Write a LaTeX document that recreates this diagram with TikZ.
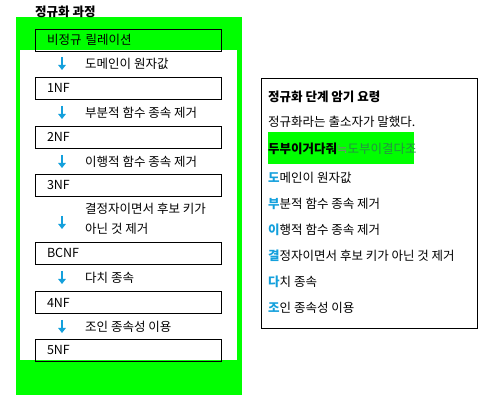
\documentclass[tikz,border=0pt]{standalone}
\usepackage{fontspec}
\setmainfont{Noto Sans CJK KR}
\newfontfamily\symfont{DejaVu Sans}
\usetikzlibrary{arrows.meta}
\definecolor{bgreen}{RGB}{0,255,0}
\definecolor{darr}{RGB}{20,160,220}
\definecolor{dgtext}{RGB}{40,140,70}
\begin{document}
\begin{tikzpicture}[x=1pt,y=-1pt,
  every node/.style={font=\fontsize{12.5}{14}\selectfont, inner sep=0pt},
  nfbox/.style={draw=black, line width=0.8pt, minimum width=186pt, minimum height=22pt, text width=162pt, align=left, anchor=center},
  downarrow/.style={draw=darr, line width=2pt, -{Triangle[width=7.5pt,length=5pt]}},
  lbl/.style={anchor=west},
  note/.style={anchor=west}]
\useasboundingbox (0,0) rectangle (488,406);
% green frame
\fill[bgreen] (16,17) rectangle (242,395);
\fill[white] (20,50) rectangle (237,360);
\node[anchor=west, font=\fontsize{12.5}{14}\selectfont\bfseries] (title) at (35,12) {정규화 과정};
% boxes
\node[nfbox] (b0) at (128,40) {비정규 릴레이션};
\node[nfbox] (b1) at (128,88) {1NF};
\node[nfbox] (b2) at (128,137) {2NF};
\node[nfbox] (b3) at (128,185.5) {3NF};
\node[nfbox] (b4) at (128,253) {BCNF};
\node[nfbox] (b5) at (128,302.5) {4NF};
\node[nfbox] (b6) at (128,350) {5NF};
% arrows
\coordinate (a1s) at (62,57); \coordinate (a1e) at (62,70);
\coordinate (a2s) at (62,106); \coordinate (a2e) at (62,119);
\coordinate (a3s) at (62,155); \coordinate (a3e) at (62,168);
\coordinate (a4s) at (62,216); \coordinate (a4e) at (62,229);
\coordinate (a5s) at (62,271); \coordinate (a5e) at (62,284);
\coordinate (a6s) at (62,320); \coordinate (a6e) at (62,333);
\draw[downarrow] (a1s) -- (a1e);
\draw[downarrow] (a2s) -- (a2e);
\draw[downarrow] (a3s) -- (a3e);
\draw[downarrow] (a4s) -- (a4e);
\draw[downarrow] (a5s) -- (a5e);
\draw[downarrow] (a6s) -- (a6e);
\node[lbl] (l1) at (85,64) {도메인이 원자값};
\node[lbl] (l2) at (85,113) {부분적 함수 종속 제거};
\node[lbl] (l3) at (85,162) {이행적 함수 종속 제거};
\node[lbl] (l4a) at (85,209) {결정자이면서 후보 키가};
\node[lbl] (l4b) at (85,229) {아닌 것 제거};
\node[lbl] (l5) at (85,278) {다치 종속};
\node[lbl] (l6) at (85,327) {조인 종속성 이용};
% right box
\draw[line width=0.8pt] (261,78) rectangle (477,328);
\fill[bgreen] (268,132) rectangle (414,164);
\node[note, font=\fontsize{12.5}{14}\selectfont\bfseries] (n0) at (268,97) {정규화 단계 암기 요령};
\node[note] (n1) at (268,122) {정규화라는 출소자가 말했다.};
\node[note] (n2) at (268,149) {\textbf{두부이거다줘}\textcolor{gray}{\symfont ≒}\textcolor{dgtext}{도부이결다조}};
\node[note] (n3) at (268,178) {{\color{darr}\bfseries 도}메인이 원자값};
\node[note] (n4) at (268,204) {{\color{darr}\bfseries 부}분적 함수 종속 제거};
\node[note] (n5) at (268,230) {{\color{darr}\bfseries 이}행적 함수 종속 제거};
\node[note] (n6) at (268,256) {{\color{darr}\bfseries 결}정자이면서 후보 키가 아닌 것 제거};
\node[note] (n7) at (268,282) {{\color{darr}\bfseries 다}치 종속};
\node[note] (n8) at (268,308) {{\color{darr}\bfseries 조}인 종속성 이용};
\end{tikzpicture}
\end{document}
